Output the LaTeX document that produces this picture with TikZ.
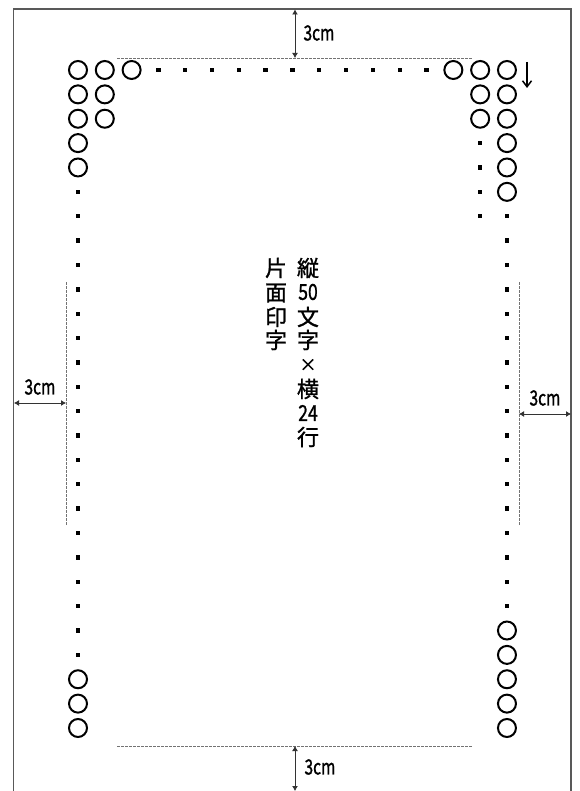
\documentclass[tikz,border=0pt]{standalone}
\usepackage{fontspec}
\setmainfont{Noto Sans CJK JP}[FakeBold=1.2]
\usetikzlibrary{arrows.meta}
\begin{document}
\begin{tikzpicture}[x=1pt,y=-1pt,
  ring/.style={draw=black,line width=2pt},
  sq/.style={fill=black},
  pageedge/.style={draw=black!65,line width=1.6pt},
  guide/.style={draw=black!55,line width=0.6pt,dash pattern=on 2.5pt off 1.5pt},
  dimarrow/.style={draw=black!80,line width=0.9pt,{Latex[length=5pt,width=6pt]}-{Latex[length=5pt,width=6pt]}},
  dimlabel/.style={font=\fontsize{21}{21}\selectfont,inner sep=0pt,xscale=0.74},
  vchar/.style={font=\fontsize{22}{22}\selectfont,inner sep=0pt}]
\useasboundingbox[fill=white] (0,0) rectangle (579,791);
% page edges
\draw[pageedge] (13.5,791) -- (13.5,9) -- (571,9) -- (571,791);
% grid of circles and dots
\def\cx#1{\fpeval{78+26.81*(#1)}}
\def\cy#1{\fpeval{70+24.37*(#1)}}
\newcommand\ringat[2]{\draw[ring] (\cx{#1},\cy{#2}) circle[radius=9pt];}
\newcommand\dotat[2]{\fill[sq] (\cx{#1}-2.2,\cy{#2}-2.2) rectangle ++(4.4,4.4);}
% left column
\foreach \k in {0,...,4,25,26,27} {\ringat{0}{\k}}
\foreach \k in {5,...,24} {\dotat{0}{\k}}
% second column
\foreach \k in {0,1,2} {\ringat{1}{\k}}
% top row
\ringat{2}{0}
\foreach \j in {3,...,13} {\dotat{\j}{0}}
\ringat{14}{0}
% column 15
\foreach \k in {0,1,2} {\ringat{15}{\k}}
\foreach \k in {3,...,6} {\dotat{15}{\k}}
% column 16
\foreach \k in {0,...,5,23,24,25,26,27} {\ringat{16}{\k}}
\foreach \k in {6,...,22} {\dotat{16}{\k}}
% direction arrow
\coordinate (ds) at (527,62);
\coordinate (de) at (527,88);
\draw[line width=1.5pt,-{Straight Barb[length=6pt,width=9pt]}] (ds) -- (de);
% guide lines
\coordinate (tl) at (117,58); \coordinate (tr) at (472,58);
\coordinate (bl) at (117,746); \coordinate (br) at (472,746);
\coordinate (ll1) at (66,282); \coordinate (ll2) at (66,525);
\coordinate (rl1) at (519,282); \coordinate (rl2) at (519,525);
\draw[guide] (tl) -- (tr);
\draw[guide] (bl) -- (br);
\draw[guide] (ll1) -- (ll2);
\draw[guide] (rl1) -- (rl2);
% dimension arrows
\coordinate (ta1) at (295,9.5); \coordinate (ta2) at (295,58);
\coordinate (ba1) at (295,746); \coordinate (ba2) at (295,791);
\coordinate (la1) at (14,403); \coordinate (la2) at (66,403);
\coordinate (ra1) at (519,414); \coordinate (ra2) at (571,414);
\draw[dimarrow] (ta1) -- (ta2);
\draw[dimarrow] (ba1) -- (ba2);
\draw[dimarrow] (la1) -- (la2);
\draw[dimarrow] (ra1) -- (ra2);
\node[dimlabel] (tlab) at (319,33) {3cm};
\node[dimlabel] (blab) at (320,767) {3cm};
\node[dimlabel] (llab) at (40,387) {3cm};
\node[dimlabel] (rlab) at (545,398) {3cm};
% vertical text
\node[vchar] (a1) at (276,268) {片};
\node[vchar] (a2) at (276,293) {面};
\node[vchar] (a3) at (276,317) {印};
\node[vchar] (a4) at (276,340) {字};
\node[vchar] (b1) at (308,268) {縦};
\node[vchar,xscale=0.8] (b2) at (308,292) {50};
\node[vchar] (b3) at (308,317) {文};
\node[vchar] (b4) at (308,340) {字};
\node[vchar,font=\fontsize{17}{17}\selectfont] (b5) at (308,365) {×};
\node[vchar] (b6) at (308,389) {横};
\node[vchar,xscale=0.8] (b7) at (308,413) {24};
\node[vchar] (b8) at (308,437) {行};
\end{tikzpicture}
\end{document}
